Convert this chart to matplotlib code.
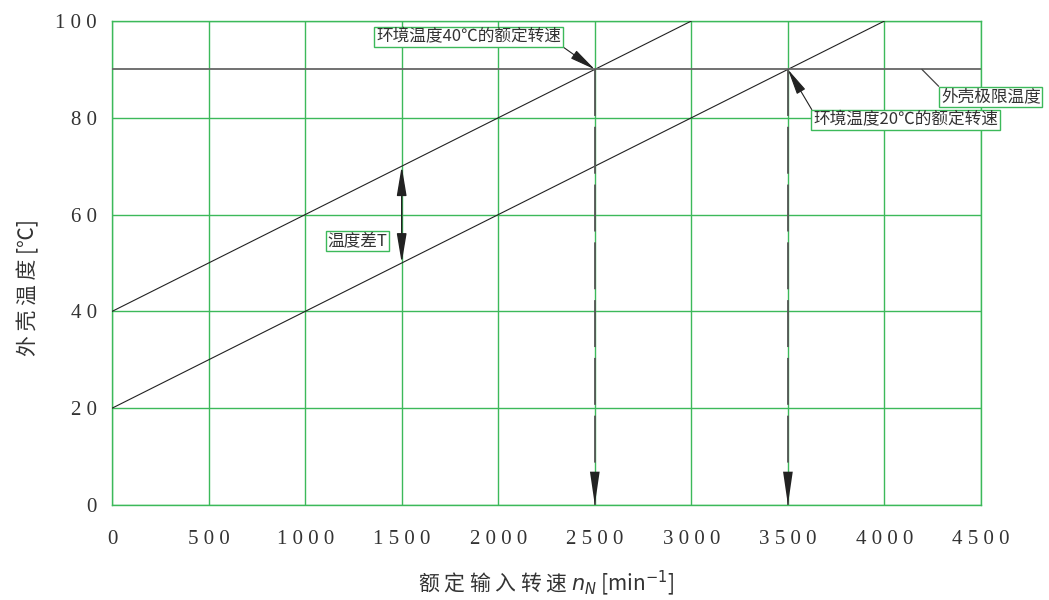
import matplotlib
matplotlib.use("Agg")
import matplotlib.pyplot as plt

# data
speed_40 = [0, 3000]
temp_40 = [40, 100]
speed_20 = [0, 4000]
temp_20 = [20, 100]
limit_temp = 90
rated_speeds = [2500, 3500]
diff_speed = 1500
diff_temps = [50, 70]

x_ticks = [0, 500, 1000, 1500, 2000, 2500, 3000, 3500, 4000, 4500]
y_ticks = [0, 20, 40, 60, 80, 100]

GREEN = "#3cb95a"
TXT = "#333333"
CJK = ["Noto Sans CJK SC", "DejaVu Sans"]


def spaced(v):
    return " ".join(str(v))


def main():
    fig = plt.figure(figsize=(10.49, 6), dpi=100)
    ax = fig.add_axes([0.1068, 0.1583, 0.8284, 0.8067])

    ax.set_xlim(x_ticks[0], x_ticks[-1])
    ax.set_ylim(y_ticks[0], y_ticks[-1])
    ax.set_xticks(x_ticks)
    ax.set_yticks(y_ticks)
    ax.set_xticklabels([spaced(v) for v in x_ticks], family="Liberation Serif",
                       fontsize=15, color=TXT)
    ax.set_yticklabels([spaced(v) for v in y_ticks], family="Liberation Serif",
                       fontsize=15, color=TXT)
    ax.tick_params(length=0)
    ax.tick_params(axis="x", pad=18)
    ax.tick_params(axis="y", pad=11)
    ax.grid(True, color=GREEN, lw=1.0, zorder=0)
    ax.set_axisbelow(True)
    for s in ax.spines.values():
        s.set_color(GREEN)
        s.set_linewidth(1.0)

    # characteristic lines
    ax.plot(speed_40, temp_40, color="#222222", lw=0.8, zorder=3)
    ax.plot(speed_20, temp_20, color="#222222", lw=0.8, zorder=3)
    ax.axhline(limit_temp, color="#666666", lw=1.3, zorder=3)

    # dashed drop lines with arrows
    for s in rated_speeds:
        ax.plot([s, s], [limit_temp, y_ticks[0]], color="#555555", lw=1.3,
                dashes=(26, 6), zorder=3)
        ax.annotate("", xy=(s, y_ticks[0]), xytext=(s, y_ticks[0] + 8),
                    arrowprops=dict(arrowstyle="-|>,head_length=2.4,head_width=0.35",
                                    color="#222222", lw=0, mutation_scale=10,
                                    shrinkA=0, shrinkB=0), zorder=4)

    # temperature difference arrow
    ax.annotate("", xy=(diff_speed, diff_temps[0]), xytext=(diff_speed, diff_temps[1]),
                arrowprops=dict(arrowstyle="<|-|>,head_length=1.8,head_width=0.3",
                                color="#222222", lw=1.0, mutation_scale=10,
                                shrinkA=0, shrinkB=0), zorder=4)

    box = dict(boxstyle="square,pad=0.1", fc="white", ec=GREEN, lw=1.0)
    ax.annotate("环境温度40℃的额定转速", xy=(rated_speeds[0], limit_temp),
                xytext=(1367, 96.7), ha="left", va="center", fontsize=12,
                family=CJK, color=TXT, bbox=box,
                arrowprops=dict(arrowstyle="-|>,head_length=1.6,head_width=0.3",
                                color="#222222", lw=0.8, mutation_scale=10,
                                relpos=(1, 0), shrinkA=0, shrinkB=0), zorder=5)
    ax.annotate("环境温度20℃的额定转速", xy=(rated_speeds[1], limit_temp),
                xytext=(3630, 79.5), ha="left", va="center", fontsize=12,
                family=CJK, color=TXT, bbox=box,
                arrowprops=dict(arrowstyle="-|>,head_length=1.6,head_width=0.3",
                                color="#222222", lw=0.8, mutation_scale=10,
                                relpos=(0, 1), shrinkA=0, shrinkB=0), zorder=5)
    ax.annotate("外壳极限温度", xy=(4194, limit_temp),
                xytext=(4292, 84.3), ha="left", va="center", fontsize=12,
                family=CJK, color=TXT, bbox=box, annotation_clip=False,
                arrowprops=dict(arrowstyle="-", color="#444444", lw=0.9,
                                relpos=(0, 1), shrinkA=0, shrinkB=0), zorder=5)
    ax.text(1115, 54.5, "温度差T", ha="left", va="center", fontsize=12,
            family=CJK, color=TXT, bbox=box, zorder=5)

    ax.set_xlabel("额 定 输 入 转 速 $n_N$ [min$^{-1}$]", family=CJK, fontsize=15,
                  color=TXT, labelpad=14)
    ax.set_ylabel("外 壳 温 度 [℃]", family=CJK, fontsize=15, color=TXT)
    ax.yaxis.set_label_coords(-0.084, 0.45)

    fig.savefig("out.png", dpi=100)


if __name__ == "__main__":
    main()
